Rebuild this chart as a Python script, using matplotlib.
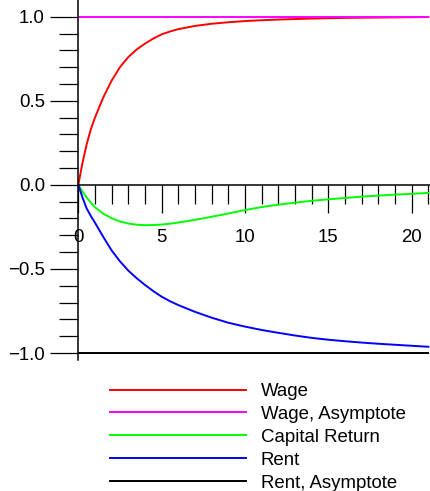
import matplotlib
matplotlib.use("Agg")
import matplotlib.pyplot as plt
import numpy as np

plt.rcParams['font.family'] = ['Liberation Sans', 'DejaVu Sans']

# Data
t = [0, 0.25, 0.5, 0.75, 1, 1.5, 2, 2.5, 3, 3.5, 4, 4.5, 5, 5.5, 6, 7, 8, 9, 10, 11, 12, 13, 14, 15, 16, 17, 18, 19, 20, 21]
wage = [0, 0.13, 0.24, 0.33, 0.40, 0.52, 0.62, 0.70, 0.76, 0.805, 0.84, 0.87, 0.895, 0.912, 0.926, 0.945, 0.958,
        0.967, 0.974, 0.979, 0.983, 0.986, 0.989, 0.991, 0.993, 0.994, 0.995, 0.996, 0.997, 0.998]
capital = [0, -0.04, -0.075, -0.105, -0.133, -0.172, -0.198, -0.218, -0.23, -0.237, -0.24, -0.239, -0.236, -0.231,
           -0.224, -0.208, -0.19, -0.17, -0.15, -0.132, -0.118, -0.106, -0.095, -0.086, -0.078, -0.07, -0.064,
           -0.058, -0.053, -0.048]
rent = [0, -0.075, -0.14, -0.185, -0.225, -0.31, -0.39, -0.455, -0.51, -0.555, -0.595, -0.632, -0.665, -0.692,
        -0.715, -0.755, -0.79, -0.82, -0.843, -0.863, -0.88, -0.896, -0.91, -0.921, -0.93, -0.938, -0.945,
        -0.951, -0.957, -0.963]
asym_t = [0, 21]
wage_asym = [1.0, 1.0]
rent_asym = [-1.0, -1.0]

labels = ["Wage", "Wage, Asymptote", "Capital Return", "Rent", "Rent, Asymptote"]
colors = ["#ff0000", "#ff00ff", "#00ff00", "#0000ff", "#000000"]

fig = plt.figure(figsize=(4.30, 4.91), dpi=100)
ax = fig.add_axes([78.3 / 430, (491 - 360) / 491, (430 - 78.3) / 430, 360 / 491])

lw = 1.4
l1, = ax.plot(t, wage, color=colors[0], lw=lw, label=labels[0])
l2, = ax.plot(asym_t, wage_asym, color=colors[1], lw=lw, label=labels[1])
l3, = ax.plot(t, capital, color=colors[2], lw=lw, label=labels[2])
l4, = ax.plot(t, rent, color=colors[3], lw=lw, label=labels[3])
l5, = ax.plot(asym_t, rent_asym, color=colors[4], lw=lw, label=labels[4])

ax.set_xlim(0, 21.1)
ax.set_ylim(-1.0416, 1.0993)

for s in ['top', 'right']:
    ax.spines[s].set_visible(False)
ax.spines['left'].set_position(('data', 0))
ax.spines['bottom'].set_position(('data', 0))
ax.spines['left'].set_linewidth(1.1)
ax.spines['bottom'].set_linewidth(1.1)

ax.set_xticks([0, 5, 10, 15, 20])
ax.set_xticklabels(["0", "5", "10", "15", "20"])
ax.set_xticks([i for i in range(1, 22) if i % 5 != 0], minor=True)
ax.set_yticks([-1.0, -0.5, 0.0, 0.5, 1.0])
ax.set_yticklabels(["\u22121.0", "\u22120.5", "0.0", "0.5", "1.0"])
ax.set_yticks([round(-1 + 0.1 * i, 1) for i in range(21) if i % 5 != 0], minor=True)

fs = 13.4
ax.tick_params(axis='both', which='major', direction='out', length=20, width=0.9, labelsize=fs, color='black')
ax.tick_params(axis='both', which='minor', direction='out', length=13.7, width=0.9, color='black')
ax.tick_params(axis='x', which='major', pad=12)
ax.tick_params(axis='y', which='major', pad=4)

fig.legend(handles=[l1, l2, l3, l4, l5], loc='upper left', bbox_to_anchor=(110 / 430, 1 - 383 / 491),
           frameon=False, fontsize=fs, handlelength=7.3, handletextpad=0.8, labelspacing=0.32,
           borderpad=0, borderaxespad=0)

fig.savefig("out.png", dpi=100)
